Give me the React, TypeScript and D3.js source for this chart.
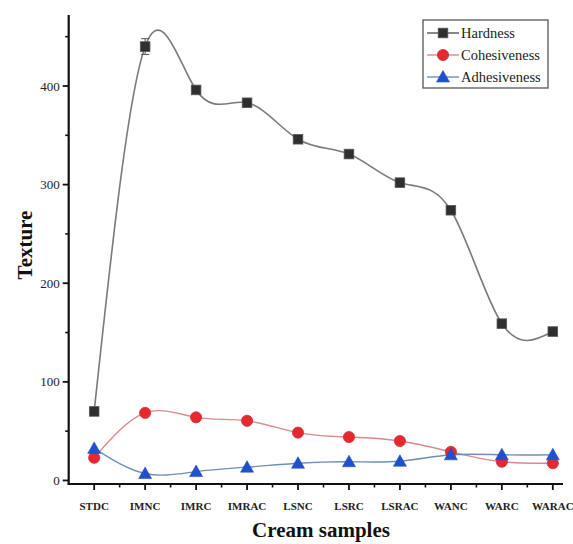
import React from "react";
import * as d3 from "d3";

const categories = ["STDC", "IMNC", "IMRC", "IMRAC", "LSNC", "LSRC", "LSRAC", "WANC", "WARC", "WARAC"];
const hardness = [70, 440, 396, 383, 346, 331, 302, 274, 159, 151];
const hardnessErr = [0, 8, 0, 0, 0, 0, 0, 0, 0, 0];
const cohesiveness = [23, 68.5, 64, 60.5, 48.5, 44, 40, 29, 19, 17.5];
const adhesiveness = [32.5, 7, 9, 13.5, 17.5, 19, 19.5, 26, 26, 26];
const yTicks = [0, 100, 200, 300, 400];
const yMinorTicks = [50, 150, 250, 350, 450];

const W = 573;
const H = 544;
const FONT = "'Liberation Serif', 'Times New Roman', serif";

export default function App() {
  const x = d3.scaleLinear().domain([-0.5, 9.2]).range([68.7, 563]);
  const y = d3.scaleLinear().domain([-3.6, 472]).range([484, 15]);
  const idx = categories.map((_, i) => i);

  const lineGen = d3
    .line<number>()
    .x((_, i) => x(i))
    .y((d) => y(d))
    .curve(d3.curveNatural);

  const axisY = x(-0.5);
  const axisX = y(-3.6);

  const square = (cx: number, cy: number, key: string) => (
    <rect key={key} x={cx - 4.8} y={cy - 4.8} width={9.6} height={9.6} fill="#2f2f2f" stroke="#555" strokeWidth={0.8} />
  );
  const circle = (cx: number, cy: number, key: string) => (
    <circle key={key} cx={cx} cy={cy} r={5.6} fill="#e8282e" stroke="#c0393f" strokeWidth={0.8} />
  );
  const tri = (cx: number, cy: number, key: string) => (
    <path key={key} d={`M${cx},${cy - 6.5}L${cx + 6.5},${cy + 5}L${cx - 6.5},${cy + 5}Z`} fill="#1f50cf" stroke="#2a4fa8" strokeWidth={0.6} />
  );

  const legendItems = [
    { label: "Hardness", color: "#555", marker: square },
    { label: "Cohesiveness", color: "#d98a8a", marker: circle },
    { label: "Adhesiveness", color: "#6f8fb8", marker: tri },
  ];
  const legendY = [33, 55, 77];

  return (
    <svg width={W} height={H} style={{ position: "absolute", left: 0, top: 0, background: "#fff" }} fontFamily={FONT}>
      {/* series lines */}
      <path d={lineGen(hardness) || ""} fill="none" stroke="#7a7a7a" strokeWidth={1.6} />
      <path d={lineGen(cohesiveness) || ""} fill="none" stroke="#d98a8a" strokeWidth={1.4} />
      <path d={lineGen(adhesiveness) || ""} fill="none" stroke="#6f8fb8" strokeWidth={1.4} />

      {/* error bars */}
      {idx.map((i) =>
        hardnessErr[i] > 0 ? (
          <g key={"e" + i} stroke="#555" strokeWidth={1}>
            <line x1={x(i)} x2={x(i)} y1={y(hardness[i] - hardnessErr[i])} y2={y(hardness[i] + hardnessErr[i])} />
            <line x1={x(i) - 4} x2={x(i) + 4} y1={y(hardness[i] - hardnessErr[i])} y2={y(hardness[i] - hardnessErr[i])} />
            <line x1={x(i) - 4} x2={x(i) + 4} y1={y(hardness[i] + hardnessErr[i])} y2={y(hardness[i] + hardnessErr[i])} />
          </g>
        ) : null
      )}

      {/* markers */}
      {idx.map((i) => square(x(i), y(hardness[i]), "h" + i))}
      {idx.map((i) => circle(x(i), y(cohesiveness[i]), "c" + i))}
      {idx.map((i) => tri(x(i), y(adhesiveness[i]), "a" + i))}

      {/* Y axis */}
      <line x1={axisY} x2={axisY} y1={y(472)} y2={axisX + 1} stroke="#111" strokeWidth={2.2} />
      {yTicks.map((t) => (
        <g key={"yt" + t}>
          <line x1={axisY - 6} x2={axisY} y1={y(t)} y2={y(t)} stroke="#111" strokeWidth={1.8} />
          <text x={axisY - 9} y={y(t) + 4.5} textAnchor="end" fontSize={13} fill="#222">
            {t}
          </text>
        </g>
      ))}
      {yMinorTicks.map((t) => (
        <line key={"ym" + t} x1={axisY - 3.5} x2={axisY} y1={y(t)} y2={y(t)} stroke="#111" strokeWidth={1.6} />
      ))}

      {/* X axis */}
      <line x1={axisY - 1} x2={x(9.2)} y1={axisX} y2={axisX} stroke="#111" strokeWidth={2.2} />
      {idx.map((i) => (
        <g key={"xt" + i}>
          <line x1={x(i)} x2={x(i)} y1={axisX} y2={axisX + 6} stroke="#111" strokeWidth={1.8} />
          <text x={x(i)} y={510} textAnchor="middle" fontSize={11} fontWeight="bold" fill="#222">
            {categories[i]}
          </text>
        </g>
      ))}
      {idx.map((i) => (
        <line key={"xm" + i} x1={x(i + 0.5)} x2={x(i + 0.5)} y1={axisX} y2={axisX + 3.5} stroke="#111" strokeWidth={1.6} />
      ))}

      {/* axis titles */}
      <text x={321} y={537} textAnchor="middle" fontSize={21} fontWeight="bold" fill="#111">
        Cream samples
      </text>
      <text transform={`translate(32,245) rotate(-90)`} textAnchor="middle" fontSize={21} fontWeight="bold" fill="#111">
        Texture
      </text>

      {/* legend */}
      <rect x={423} y={20} width={125} height={68} fill="#fff" stroke="#555" strokeWidth={1.3} />
      {legendItems.map((it, k) => (
        <g key={"lg" + k}>
          <line x1={427} x2={459} y1={legendY[k]} y2={legendY[k]} stroke={it.color} strokeWidth={1.4} />
          {it.marker(443, legendY[k], "lm" + k)}
          <text x={461} y={legendY[k] + 5} fontSize={14.5} fill="#222">
            {it.label}
          </text>
        </g>
      ))}
    </svg>
  );
}
